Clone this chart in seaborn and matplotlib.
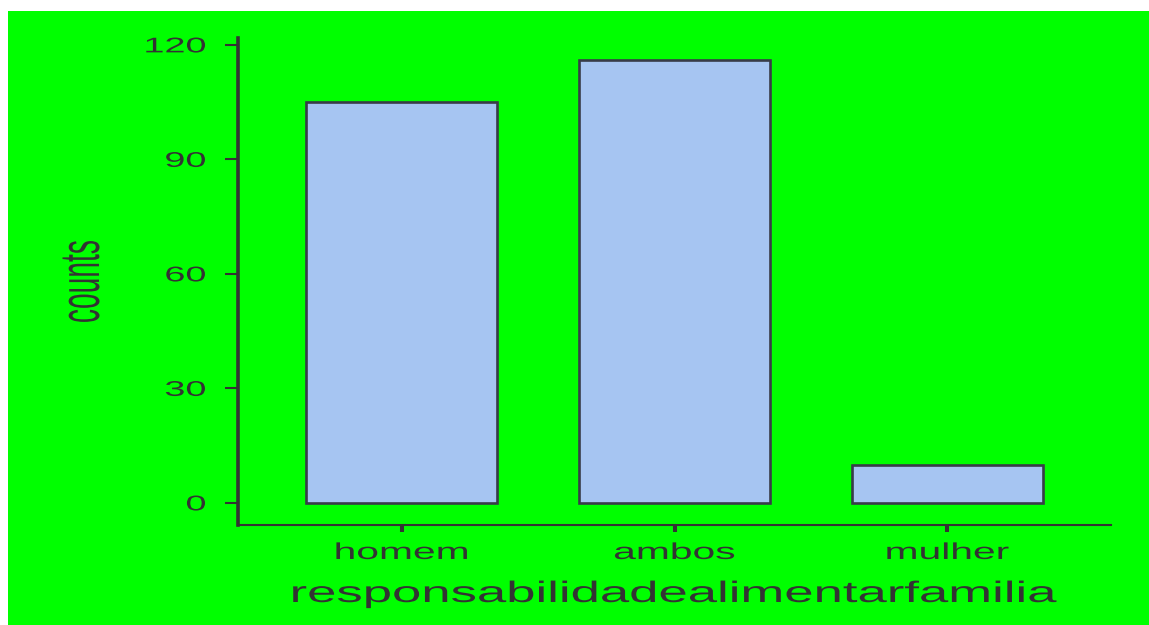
import matplotlib
matplotlib.use("Agg")
import matplotlib.pyplot as plt
from matplotlib.patches import Rectangle
from matplotlib.patheffects import AbstractPathEffect
from matplotlib.transforms import Affine2D
import seaborn as sns
import pandas as pd

categories = ["homem", "ambos", "mulher"]
counts = [105, 116, 10]
y_ticks = [0, 30, 60, 90, 120]

df = pd.DataFrame({"responsabilidadealimentarfamilia": categories, "counts": counts})


class HStretch(AbstractPathEffect):
    """Widen glyphs horizontally (screen x) around a chosen anchor."""

    def __init__(self, factor, anchor="center"):
        super().__init__()
        self.factor = factor
        self.anchor = anchor

    def draw_path(self, renderer, gc, tpath, affine, rgbFace=None):
        ext = tpath.get_extents(affine)
        if self.anchor == "right":
            x0 = ext.x1
        elif self.anchor == "left":
            x0 = ext.x0
        else:
            x0 = 0.5 * (ext.x0 + ext.x1)
        stretch = Affine2D().translate(-x0, 0).scale(self.factor, 1).translate(x0, 0)
        renderer.draw_path(gc, tpath, affine + stretch, rgbFace)


sns.set_theme(style="ticks")
plt.rcParams["font.family"] = ["Liberation Sans", "DejaVu Sans"]

W, H = 1149, 625
SX = 1.78
fig = plt.figure(figsize=(W / 100, H / 100), dpi=100)
fig.patch.set_facecolor("white")
backdrop = Rectangle((8 / W, 0), 1 - 8 / W, 1 - 11 / H, transform=fig.transFigure,
                     facecolor="#00ff00", edgecolor="none", zorder=-10)
fig.add_artist(backdrop)

ax = fig.add_axes([238 / W, 1 - 525 / H, (1111 - 238) / W, (525 - 38) / H])
ax.patch.set_visible(False)

sns.barplot(data=df, x="responsabilidadealimentarfamilia", y="counts", order=categories,
            color="#a6c5f2", saturation=1, width=0.7, edgecolor="#383c48", linewidth=1.9, ax=ax)

ax.set_xlim(-0.6, 2.6)
ax.set_ylim(-5.8, 121.8)
ax.set_yticks(y_ticks)

ink = "#333333"
for side in ["top", "right"]:
    ax.spines[side].set_visible(False)
ax.spines["left"].set_color(ink)
ax.spines["left"].set_linewidth(2.6)
ax.spines["bottom"].set_color(ink)
ax.spines["bottom"].set_linewidth(1.5)

ax.tick_params(axis="y", length=9.4, width=1.5, color=ink, labelcolor=ink, labelsize=15.3, pad=13.7)
ax.tick_params(axis="x", length=5, width=2.9, color=ink, labelcolor=ink, labelsize=16.5, pad=6.5)

for lbl in ax.get_xticklabels():
    lbl.set_path_effects([HStretch(SX, "center")])
for lbl in ax.get_yticklabels():
    lbl.set_path_effects([HStretch(SX, "right")])

ax.set_xlabel("responsabilidadealimentarfamilia", fontsize=21.3, color=ink, va="top",
              path_effects=[HStretch(SX, "center")])
ax.xaxis.set_label_coords(0.5, (525 - 580) / 487)

ax.set_ylabel("counts", fontsize=20.3, color=ink, va="center",
              path_effects=[HStretch(2.0, "center")])
ax.yaxis.set_label_coords((83 - 238) / 873, 0.5)

fig.savefig("out.png", dpi=100)
